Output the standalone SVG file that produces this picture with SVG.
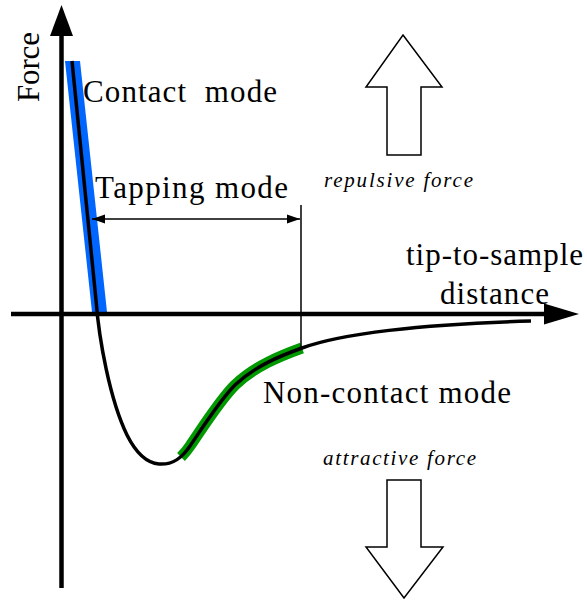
<svg xmlns="http://www.w3.org/2000/svg" width="587" height="600" viewBox="0 0 587 600">
  <style>
    .lbl { font-family: "Liberation Serif", "Times New Roman", serif; font-size: 31px; fill: #000; }
    .ital { font-family: "Liberation Serif", "Times New Roman", serif; font-size: 21px; font-style: italic; fill: #000; }
    .axis { stroke: #000; stroke-width: 4.5; fill: none; }
    .block { fill: #fff; stroke: #000; stroke-width: 1.5; stroke-linejoin: miter; }
  </style>
  <defs>
    <marker id="tipEnd" markerUnits="userSpaceOnUse" markerWidth="14" markerHeight="10" refX="13" refY="5" orient="auto">
      <path d="M0,0.5 L13,5 L0,9.5 Z" fill="#000"/>
    </marker>
    <marker id="tipStart" markerUnits="userSpaceOnUse" markerWidth="14" markerHeight="10" refX="0" refY="5" orient="auto">
      <path d="M13,0.5 L0,5 L13,9.5 Z" fill="#000"/>
    </marker>
  </defs>

  <rect width="587" height="600" fill="#fff"/>

  <!-- force-distance curve with highlighted operating regions -->
  <g id="contact-band">
    <polygon points="65,61 80,61 107,312 92,312" fill="#0066ff"/>
  </g>
  <g id="noncontact-band">
    <path d="M181,457 C186,452 188,449 190,446 C205,424 220,400 235,385 C255,366 280,356 302,348" fill="none" stroke="#009a00" stroke-width="11" stroke-linecap="butt"/>
  </g>
  <g id="force-curve">
    <path d="M72,61 L96,300 C99,340 110,400 127,435 C137,455 147,463 159,464 C173,465 182,458 190,446 C205,424 220,400 235,385 C255,366 280,356 302,348 C340,334 420,324 531,321" fill="none" stroke="#000" stroke-width="3.5" stroke-linecap="butt"/>
  </g>

  <!-- axes and the tapping-range dimension -->
  <g id="connectors">
    <line class="axis" x1="61.5" y1="588" x2="61.5" y2="34"/>
    <polygon points="61.5,5 73,36 50,36" fill="#000"/>
    <line class="axis" x1="11" y1="314" x2="546" y2="314"/>
    <polygon points="579,314 544,303.5 544,324.5" fill="#000"/>
    <line x1="92" y1="219" x2="300" y2="219" stroke="#000" stroke-width="1.5" marker-start="url(#tipStart)" marker-end="url(#tipEnd)"/>
    <line x1="301" y1="205" x2="301" y2="349" stroke="#000" stroke-width="1.5"/>
  </g>

  <!-- labels -->
  <g id="force-label">
    <text class="lbl" transform="translate(39,67) rotate(-90)" text-anchor="middle" textLength="70" lengthAdjust="spacing">Force</text>
  </g>
  <g id="contact-label">
    <text class="lbl" x="83" y="102" textLength="194" lengthAdjust="spacing" xml:space="preserve">Contact  mode</text>
  </g>
  <g id="tapping-label">
    <text class="lbl" x="95" y="198" textLength="193" lengthAdjust="spacing">Tapping mode</text>
  </g>
  <g id="distance-label">
    <text class="lbl" x="406" y="265" textLength="177" lengthAdjust="spacing">tip-to-sample</text>
    <text class="lbl" x="440" y="304" textLength="109" lengthAdjust="spacing">distance</text>
  </g>
  <g id="noncontact-label">
    <text class="lbl" x="263" y="403" textLength="248" lengthAdjust="spacing">Non-contact mode</text>
  </g>

  <!-- force direction indicators -->
  <g id="repulsive">
    <polygon class="block" points="403,35 442,87 421,87 421,155 387,155 387,87 366,87"/>
    <text class="ital" x="324" y="187" textLength="149" lengthAdjust="spacing">repulsive force</text>
  </g>
  <g id="attractive">
    <text class="ital" x="323" y="465" textLength="153" lengthAdjust="spacing">attractive force</text>
    <polygon class="block" points="387,480 421,480 421,547 443,547 404,598 366,547 387,547"/>
  </g>
</svg>
